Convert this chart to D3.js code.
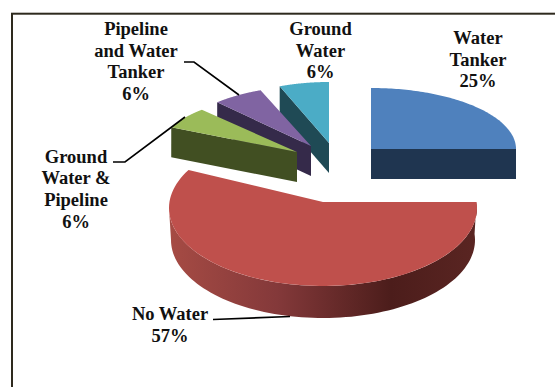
<!DOCTYPE html>
<html>
<head>
<meta charset="utf-8">
<style>
html, body { margin: 0; padding: 0; background: #fff; }
svg { display: block; }
text { font-family: "Liberation Serif", serif; font-weight: bold; font-size: 18.5px; fill: #111; text-anchor: middle; }
</style>
<script src="https://cdn.jsdelivr.net/npm/d3@7"></script>
</head>
<body>
<svg id="chart" width="555" height="387"></svg>
<script>
// Water source shares, clockwise from twelve o'clock
const categories = ["Water Tanker", "No Water", "Ground Water & Pipeline", "Pipeline and Water Tanker", "Ground Water"];
const shares = [25, 57, 6, 6, 6];
const topColors = ["#4f81bd", "#bf504c", "#9bbb59", "#8064a2", "#4bacc6"];
const wallColors = ["#1f3550", "#a64b44", "#414f22", "#352a4a", "#1f4a55"];

// Each exploded slice has its own ellipse because of the 3D tilt.
// lift: how far the hub sits above the ellipse centre; inset: how much the lower rim narrows.
const sliceGeometry = [
  { cx: 371, cy: 149, rx: 145, ry: 61, depth: 30, lift: 0, inset: 0 },
  { cx: 323, cy: 208, rx: 154, ry: 78, depth: 32, lift: 6, inset: 2 },
  { cx: 297, cy: 152, rx: 139, ry: 58, depth: 30, lift: 0, inset: 0 },
  { cx: 311, cy: 146, rx: 137, ry: 60, depth: 30, lift: 0, inset: 0 },
  { cx: 329, cy: 143, rx: 134, ry: 61, depth: 30, lift: 0, inset: 0 }
];

// Category labels, one entry per drawn line
const labelLines = [
  ["Water", "Tanker", "25%"],
  ["No Water", "57%"],
  ["Ground", "Water &", "Pipeline", "6%"],
  ["Pipeline", "and Water", "Tanker", "6%"],
  ["Ground", "Water", "6%"]
];
const labelAnchors = [
  { x: 478, y: 44 },
  { x: 170, y: 320 },
  { x: 76, y: 162.7 },
  { x: 136, y: 35 },
  { x: 320.5, y: 35 }
];
const leaderLines = [
  null,
  [[213, 319.5], [290, 316.5]],
  [[113, 162], [125, 162], [185, 117]],
  [[184, 62], [194, 62], [239, 95]],
  null
];

const svg = d3.select("#chart");

svg.append("rect")
  .attr("x", 12).attr("y", 13.7)
  .attr("width", 600).attr("height", 450)
  .attr("fill", "#fff")
  .attr("stroke", "#2e2a1e").attr("stroke-width", 2);

// Shading along the curved rim of the largest slice
const rimShade = svg.append("defs").append("linearGradient")
  .attr("id", "rimShade")
  .attr("gradientUnits", "userSpaceOnUse")
  .attr("x1", 169).attr("x2", 477).attr("y1", 0).attr("y2", 0);
[[0, "#a64b44"], [0.35, "#84393a"], [0.72, "#4c1d1b"], [1, "#5a2522"]].forEach(([o, c]) =>
  rimShade.append("stop").attr("offset", o).attr("stop-color", c));

const arcs = d3.pie().value(d => d).sort(null)(shares);

const hubOf = g => [g.cx, g.cy - g.lift];

// Where the ray from the hub at a pie angle meets the slice's ellipse
function rimPoint(g, angle, drop = 0, inset = 0) {
  const [dx, dy] = d3.pointRadial(angle, 1);
  const py = -g.lift / g.ry;
  const t = -dy * py + Math.sqrt(dy * dy * py * py - py * py + 1);
  const rx = g.rx - inset;
  return [g.cx + dx * t * rx, g.cy + (py + dy * t) * g.ry + drop];
}

// Flat top of a slice
function topFace(g, arc) {
  const steps = d3.range(arc.startAngle, arc.endAngle + 1e-6, (arc.endAngle - arc.startAngle) / 90);
  return d3.line()([hubOf(g)].concat(steps.map(a => rimPoint(g, a)))) + "Z";
}

// Wall hanging below the radial edge of a slice
function radialWall(g, angle) {
  const hub = hubOf(g);
  const rim = rimPoint(g, angle);
  return d3.line()([hub, rim, [rim[0], rim[1] + g.depth], [hub[0], hub[1] + g.depth]]) + "Z";
}

// Curved wall along the near side of the ellipse, ending where the rim turns away
function curvedWall(g, from) {
  const to = Math.PI * 1.5 - Math.atan2(g.lift / g.ry, 1);
  const steps = d3.range(from, to + 1e-6, (to - from) / 90);
  const upper = steps.map(a => rimPoint(g, a));
  const lower = steps.slice().reverse().map(a => rimPoint(g, a, g.depth, g.inset));
  return d3.line()(upper.concat(lower)) + "Z";
}

const drawOrder = [0, 4, 3, 2, 1];
drawOrder.forEach(i => {
  const g = sliceGeometry[i];
  const arc = arcs[i];
  const layer = svg.append("g");
  if (i === 1) {
    layer.append("path")
      .attr("d", curvedWall(g, arc.startAngle))
      .attr("fill", "url(#rimShade)");
  } else {
    const edge = i === 0 ? arc.endAngle : arc.startAngle;
    layer.append("path").attr("d", radialWall(g, edge)).attr("fill", wallColors[i]);
  }
  layer.append("path")
    .attr("d", topFace(g, arc))
    .attr("fill", topColors[i]);
});

leaderLines.forEach(points => {
  if (!points) return;
  svg.append("path")
    .attr("d", d3.line()(points))
    .attr("fill", "none").attr("stroke", "#000").attr("stroke-width", 1.6);
});

labelLines.forEach((lines, i) => {
  const label = svg.append("text").attr("aria-label", categories[i]);
  lines.forEach((line, k) => {
    label.append("tspan")
      .attr("x", labelAnchors[i].x)
      .attr("y", labelAnchors[i].y + k * 21.6)
      .text(line);
  });
});
</script>
</body>
</html>
